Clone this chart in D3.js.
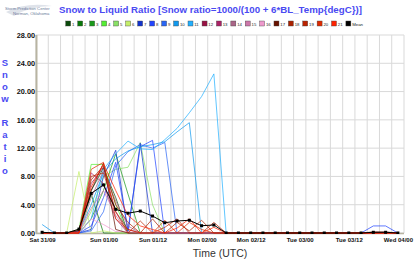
<!DOCTYPE html>
<html><head><meta charset="utf-8">
<script src="https://cdn.jsdelivr.net/npm/d3@7"></script>
<style>body{margin:0;background:#fff}svg{display:block}</style>
</head><body><svg id="c" width="416" height="263"></svg>
<script>
// ---------- DATA ----------
const times = [
 "2015-01-31T09:00","2015-01-31T12:00","2015-01-31T15:00","2015-01-31T18:00","2015-01-31T21:00",
 "2015-02-01T00:00","2015-02-01T03:00","2015-02-01T06:00","2015-02-01T09:00","2015-02-01T12:00",
 "2015-02-01T15:00","2015-02-01T18:00","2015-02-01T21:00","2015-02-02T00:00","2015-02-02T03:00",
 "2015-02-02T06:00","2015-02-02T09:00","2015-02-02T12:00","2015-02-02T15:00","2015-02-02T18:00",
 "2015-02-02T21:00","2015-02-03T00:00","2015-02-03T03:00","2015-02-03T06:00","2015-02-03T09:00",
 "2015-02-03T12:00","2015-02-03T15:00","2015-02-03T18:00","2015-02-03T21:00","2015-02-04T00:00"];
const memberNames = ["1","2","3","4","5","6","7","8","9","10","11","12","13","14","15","16","17","18","19","20","21"];
const memberColors = ["#0b4a0b","#087808","#1a9a1a","#55ee33","#88e066","#c4ee6a","#1133cc","#2244ff","#2a66f5","#1199ee","#22b0ff",
  "#991144","#aa2266","#aa6688","#cc77aa","#ee99cc","#661100","#aa2200","#bb2200","#dd2a00","#ff2200"];
const m1  = [0,0,0,0.3,6.0,9.2,5.0,0,0,0,0,0,0,0,0,0,0,0,0,0,0,0,0,0,0,0,0,0,0,0];
const m2  = [0,0,0,0.2,5.5,0,0,0,0,0,0,0,0,0,0,0,0,0,0,0,0,0,0,0,0,0,0,0,0,0];
const m3  = [0,0,0,0,2.0,6.0,11.2,5.5,0,0,0,0,0,0,0,0,0,0,0,0,0,0,0,0,0,0,0,0,0,0];
const m4  = [0,0,0,0.5,9.7,9.7,4.0,0,0,0,0,0,0,0,0,0,0,0,0,0,0,0,0,0,0,0,0,0,0,0];
const m5  = [0,0,0,0,3.0,8.0,9.0,9.3,12.8,4.0,0,0,0,0,0,0,0,0,0,0,0,0,0,0,0,0,0,0,0,0];
const m6  = [0,0,0,8.7,0,0.3,0,0,0,0,0,0,0,0,0,0,0,0,0,0,0,0,0,0,0,0,0,0,0,0];
const m7  = [0,0,0,0,0.5,8.0,11.7,0,12.7,0,0,0,0,0,0,0,0,0,0,0,0,0,0,0,0,0,0,0,0,0];
const m8  = [0,0,0,0,1.0,5.0,10.0,0.5,12.2,13.1,0,0,0,0,0,0,0,0,0,0,0,0,0,0,0,0,0,1.0,1.0,0];
const m9  = [0,0,0,0,0.3,3.0,9.5,11.5,12.5,12.0,12.8,0,0,0,0,0,0,0,0,0,0,0,0,0,0,0,0,0,0,0];
const m10 = [1.2,0,0,0.2,4.0,8.5,10.5,11.6,12.2,12.5,12.9,14.3,15.6,0,0,0,0,0,0,0,0,0,0,0,0,0,0,0,0,0];
const m11 = [0,0,0,0,2.0,9.0,11.2,13.0,11.9,11.8,13.2,14.8,17.0,19.3,22.5,0,0,0,0,0,0,0,0,0,0,0,0,0,0,0];
const m12 = [0,0,0,0.3,7.0,9.3,3.0,0.5,0,0,0,0,0,0,0,0,0,0,0,0,0,0,0,0,0,0,0,0,0,0];
const m13 = [0,0,0,0.2,8.5,7.0,2.0,0,0,0,0,0,0,0,0,0,0,0,0,0,0,0,0,0,0,0,0,0,0,0];
const m14 = [0,0,0,0,5.0,8.8,4.5,1.0,0,0,0,0,0,0,0,0,0,0,0,0,0,0,0,0,0,0,0,0,0,0];
const m15 = [0,0,0,0,3.5,6.0,2.5,0,0,0,0,0,0,0,0,0,0,0,0,0,0,0,0,0,0,0,0,0,0,0];
const m16 = [0,0,0,0,2.0,1.2,0.2,0.2,0,0,0,0,0,0,0,0,0,0,0,0,0,0,0,0,0,0,0,0,0,0];
const m17 = [0,0,0,0.4,6.0,9.9,0.5,0,0,0,0,0,0,0,0,0,0,0,0,0,0,0,0,0,0,0,0,0.15,0.15,0];
const m18 = [0,0,0,0,7.5,9.5,4.0,1.5,0,2.0,0,1.5,0.3,1.8,0,0,0,0,0,0,0,0,0,0,0,0,0,0,0,0];
const m19 = [0,0,0,0,8.0,8.5,3.0,0,1.7,0,0.8,2.0,0,0,1.5,0,0,0,0,0,0,0,0,0,0,0,0,0,0,0];
const m20 = [0,0,0,0,9.0,10.0,2.0,0.5,0,0,1.8,0,1.5,0.5,0,0,0,0,0,0,0,0,0,0,0,0,0,0,0,0];
const m21 = [0,0,0,0,6.5,9.8,6.0,2.5,1.0,0.5,0,0.7,2.0,0,0.8,0,0,0,0,0,0,0,0,0,0,0,0,0,0,0];
const meanValues = [0.1,0,0,0.55,5.6,6.8,3.35,2.8,3.1,2.4,1.45,1.7,1.8,1.03,1.13,0,0,0,0,0,0,0,0,0,0,0,0,0.1,0.1,0];
const tickTimes = ["2015-01-31T09:00","2015-02-01T00:00","2015-02-01T12:00","2015-02-02T00:00",
  "2015-02-02T12:00","2015-02-03T00:00","2015-02-03T12:00","2015-02-04T00:00"];
const tickLabels = ["Sat 31/09","Sun 01/00","Sun 01/12","Mon 02/00","Mon 02/12","Tue 03/00","Tue 03/12","Wed 04/00"];
const yTicks = [0,4,8,12,16,20,24,28];
const titleText = "Snow to Liquid Ratio [Snow ratio=1000/(100 + 6*BL_Temp{degC})]";
const yTitle = "Snow Ratio";
const xTitle = "Time (UTC)";

const members = [m1,m2,m3,m4,m5,m6,m7,m8,m9,m10,m11,m12,m13,m14,m15,m16,m17,m18,m19,m20,m21];

// ---------- CHART ----------
const parse = d3.utcParse("%Y-%m-%dT%H:%M");
const T = times.map(parse);
const svg = d3.select("#c");
const L = 36, R = 404, TOP = 35, BOT = 233;
const half = (T[1] - T[0]) / 2;
const x = d3.scaleUtc().domain([new Date(+T[0] - half), new Date(+T[T.length-1] + half)]).range([L, R]);
const y = d3.scaleLinear().domain([0, 28]).range([BOT, TOP]);
const blue = "#4a4af2";

// logo
const logo = svg.append("g");
logo.append("path").attr("d","M6,12 Q26,2 52,6 Q30,6 14,16 Z").attr("fill","#dfe3ea");
logo.append("text").attr("x",5).attr("y",9.5).attr("font-family","Liberation Sans, Arial").attr("font-size",4.2)
  .attr("fill","#6d7c9a").text("Storm Prediction Center");
logo.append("text").attr("x",13).attr("y",14.5).attr("font-family","Liberation Sans, Arial").attr("font-size",4.2)
  .attr("fill","#6d7c9a").text("Norman, Oklahoma");

// title
const title = svg.append("text").attr("x",59).attr("y",12.5)
  .attr("font-family","Liberation Sans, Arial").attr("font-weight","bold").attr("font-size",11)
  .attr("fill",blue).text(titleText);
const tw = title.node().getComputedTextLength();
title.attr("font-size", 11 * 303 / tw);

// legend
const leg = svg.append("g").attr("font-family","Liberation Sans, Arial").attr("font-size",4.3).attr("fill","#222");
let lx = 65.7;
const legItems = memberNames.map((n,i)=>({name:n,color:memberColors[i]})).concat([{name:"Mean",color:"#000"}]);
legItems.forEach(d=>{
  leg.append("rect").attr("x",lx).attr("y",21).attr("width",5).attr("height",5)
    .attr("fill",d.color).attr("stroke","#444").attr("stroke-width",0.4);
  const t = leg.append("text").attr("x",lx+6.3).attr("y",25.6).text(d.name);
  lx += 6.3 + t.node().getComputedTextLength() + 3.3;
});

// grid
const gridV = T.map(t => x(new Date(+t - half))).concat([x(new Date(+T[T.length-1] + half))]);
svg.append("g").selectAll("line").data(gridV).join("line")
  .attr("x1",d=>d).attr("x2",d=>d).attr("y1",TOP).attr("y2",BOT)
  .attr("stroke","#d9d9d9").attr("stroke-width",1);
svg.append("g").selectAll("line").data(yTicks).join("line")
  .attr("x1",L).attr("x2",R).attr("y1",d=>y(d)).attr("y2",d=>y(d))
  .attr("stroke","#d9d9d9").attr("stroke-width",1);

// axes lines
svg.append("line").attr("x1",L+0.5).attr("x2",L+0.5).attr("y1",TOP).attr("y2",BOT+1).attr("stroke","#b8b4a2").attr("stroke-width",2);
svg.append("line").attr("x1",L).attr("x2",R).attr("y1",BOT+0.5).attr("y2",BOT+0.5).attr("stroke","#b8b4a2").attr("stroke-width",1.5);

// y axis labels
const ya = svg.append("g").attr("transform",`translate(${L-1},0)`)
  .call(d3.axisLeft(y).tickValues(yTicks).tickSize(0).tickFormat(d=>d.toFixed(2)));
ya.select(".domain").remove();
ya.selectAll("text").attr("font-family","Liberation Sans, Arial").attr("font-weight","bold")
  .attr("font-size",7.3).attr("fill","#111").attr("x",0);

// x axis labels
const xa = svg.append("g").attr("transform",`translate(0,${BOT})`)
  .call(d3.axisBottom(x).tickValues(tickTimes.map(parse)).tickSize(0).tickFormat((d,i)=>tickLabels[i]));
xa.select(".domain").remove();
xa.selectAll("text").attr("font-family","Liberation Sans, Arial").attr("font-weight","bold")
  .attr("font-size",6).attr("fill","#111").attr("dy","1.05em");

// titles
svg.append("text").attr("x",220).attr("y",257).attr("text-anchor","middle")
  .attr("font-family","Liberation Sans, Arial").attr("font-size",10.5).attr("fill","#333").text(xTitle);
svg.append("g").selectAll("text").data(yTitle.split("")).join("text")
  .attr("x",5).attr("y",(d,i)=>63 + 12*i).attr("dy","0.35em").attr("text-anchor","middle")
  .attr("font-family","Liberation Sans, Arial").attr("font-weight","bold").attr("font-size",9.5)
  .attr("fill",blue).text(d=>d);

// lines
svg.append("clipPath").attr("id","clp").append("rect").attr("x",L).attr("y",TOP-2).attr("width",R-L).attr("height",BOT-TOP+3);
const line = d3.line().x((d,i)=>x(T[i])).y(d=>y(d));
const lg = svg.append("g").attr("clip-path","url(#clp)");
members.forEach((m,k)=>{
  lg.append("path").attr("d",line(m)).attr("fill","none").attr("stroke",memberColors[k]).attr("stroke-width",0.9).attr("stroke-opacity",0.8);
});
lg.append("path").attr("d",line(meanValues)).attr("fill","none").attr("stroke","#000").attr("stroke-width",1);
lg.append("g").selectAll("rect").data(meanValues).join("rect")
  .attr("x",(d,i)=>x(T[i])-1.5).attr("y",d=>y(d)-1.5).attr("width",3).attr("height",3).attr("fill","#000");
</script></body></html>
